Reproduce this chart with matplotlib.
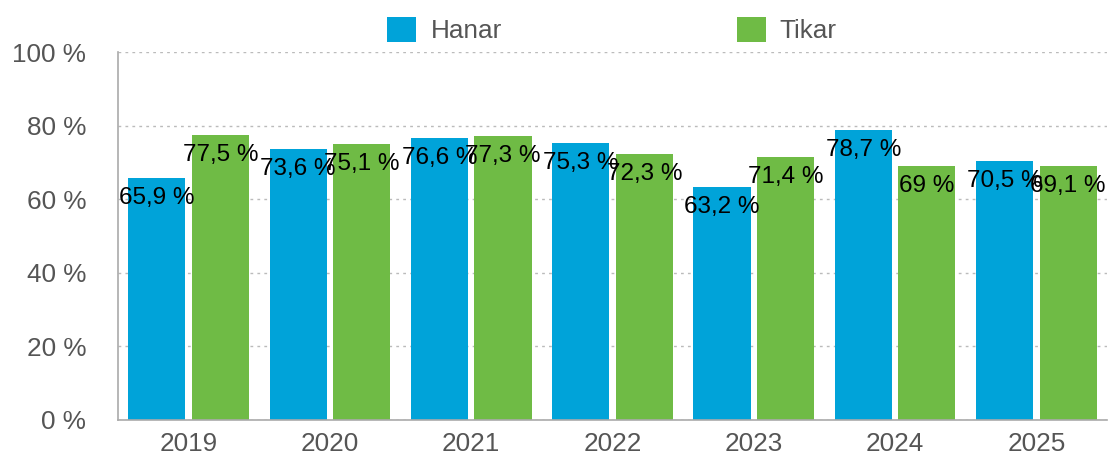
import numpy as np
import matplotlib
matplotlib.use('Agg')
from matplotlib import pyplot as plt

plt.rcParams['font.family'] = ['Liberation Sans', 'DejaVu Sans']

years = ['2019', '2020', '2021', '2022', '2023', '2024', '2025']
hanar = [65.9, 73.6, 76.6, 75.3, 63.2, 78.7, 70.5]
tikar = [77.5, 75.1, 77.3, 72.3, 71.4, 69, 69.1]
y_ticks = [0, 20, 40, 60, 80, 100]

blue = '#00a3d9'
green = '#6fbb45'


def fmt(v):
    # norsk format: komma som desimaltegn
    s = ('%g' % v).replace('.', ',')
    return s + ' %'


fig = plt.figure(figsize=(11.11, 4.57), dpi=100)
ax = fig.add_axes([0.1062, 0.081, 0.8902, 0.805])

x = np.arange(len(years))
w = 0.405
off = 0.225
b1 = ax.bar(x - off, hanar, w, color=blue, label='Hanar', zorder=2)
b2 = ax.bar(x + off, tikar, w, color=green, label='Tikar', zorder=2)

# verdietiketter litt under toppen av stolpene
for bars, vals in [(b1, hanar), (b2, tikar)]:
    for r, v in zip(bars, vals):
        ax.annotate(fmt(v), (r.get_x() + r.get_width() / 2, v),
                    xytext=(0, -20), textcoords='offset pixels',
                    ha='center', va='center', fontsize=17.5, color='black',
                    zorder=3)

ax.set_xlim(-0.5, len(years) - 0.5)
ax.set_ylim(0, 100)
ax.set_yticks(y_ticks)
ax.set_yticklabels([str(t) + ' %' for t in y_ticks])
ax.set_xticks(x)
ax.set_xticklabels(years)
ax.tick_params(axis='both', length=0, labelsize=18.8, labelcolor='#555555')
ax.tick_params(axis='y', pad=23)
ax.tick_params(axis='x', pad=9)

ax.grid(axis='y', linestyle=(0, (2, 3)), color='#bbbbbb', linewidth=1, zorder=0)
ax.set_axisbelow(True)
for s in ['top', 'right']:
    ax.spines[s].set_visible(False)
for s in ['left', 'bottom']:
    ax.spines[s].set_color('#aaaaaa')
    ax.spines[s].set_linewidth(1.2)

fig.legend(loc='upper center', bbox_to_anchor=(0.551, 1.0), ncol=2,
           frameon=False, fontsize=18.8, labelcolor='#555555',
           handlelength=1.1, handleheight=1.1, handletextpad=0.55,
           columnspacing=9.0, borderaxespad=0.25)

fig.savefig('out.png', dpi=100)
